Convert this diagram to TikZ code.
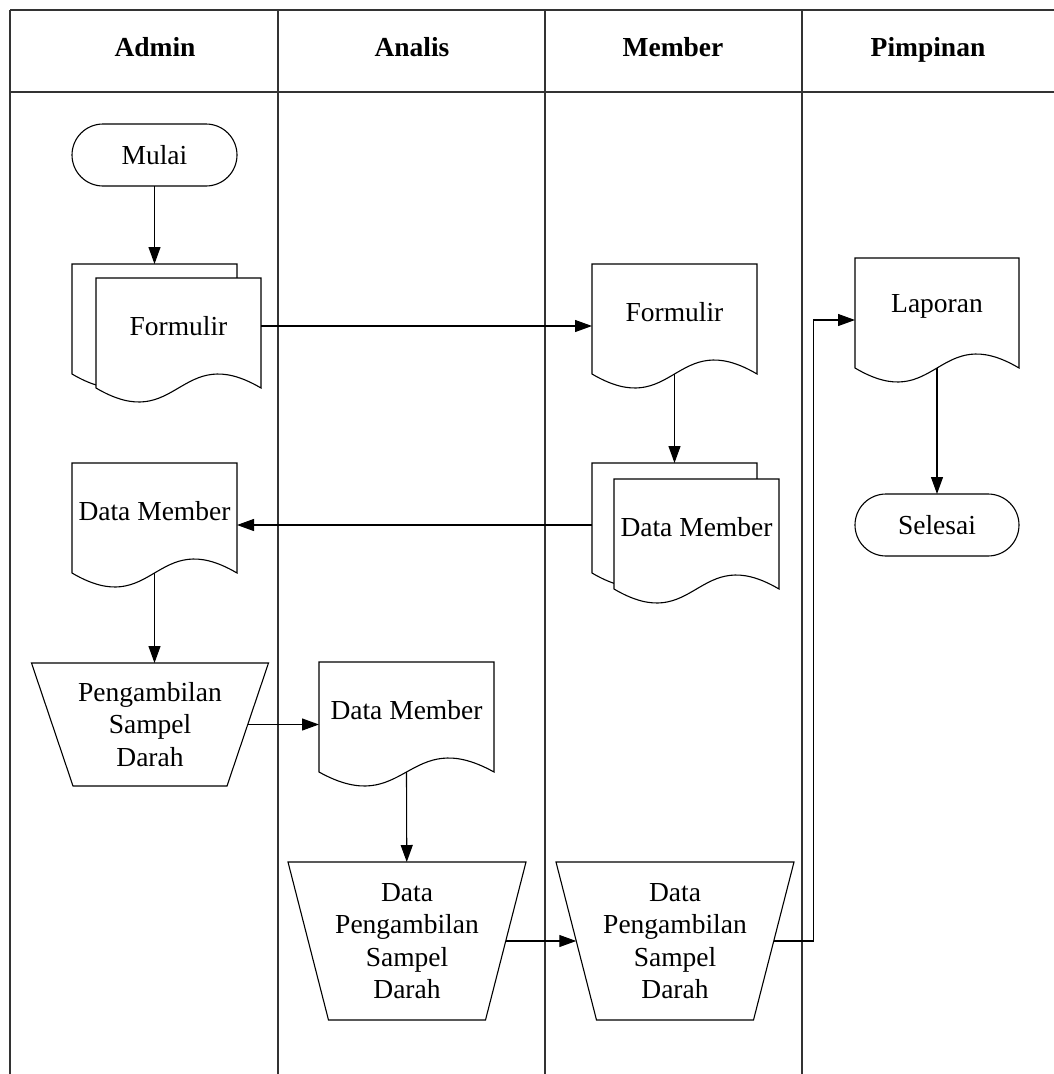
\documentclass[tikz,border=0pt]{standalone}
\usepackage{fontspec}
\setmainfont{Liberation Serif}
\usetikzlibrary{positioning, arrows.meta, calc, backgrounds}

% sheet with a wavy lower edge
\newcommand{\docline}[1]{%
  \begin{scope}[on background layer]
    \draw[fill=white, line width=1.1pt] (#1.north west) -- (#1.north east) -- ($(#1.south east)+(0,14)$)
      .. controls ($(#1.south)+(0,-34.5)$) and ($(#1.south)+(0,62.5)$) .. ($(#1.south west)+(0,14)$) -- cycle;
  \end{scope}
  \coordinate (#1w) at ($(#1.south)+(0,14)$);
}
% manual input: wide top, narrow bottom
\newcommand{\trapline}[2]{%
  \begin{scope}[on background layer]
    \draw[fill=white, line width=1.1pt] (#1.north west) -- (#1.north east) -- ($(#1.south east)+(-#2,0)$) -- ($(#1.south west)+(#2,0)$) -- cycle;
  \end{scope}
  \coordinate (#1l) at ($(#1.west)+(0.5*#2,0)$);
  \coordinate (#1r) at ($(#1.east)+(-0.5*#2,0)$);
}

\begin{document}
\begin{tikzpicture}[x=1pt, y=-1pt, line width=1.1pt, >={Triangle[length=17pt, width=12pt]}, font=\fontsize{27.5}{32.5}\selectfont]
                \tikzstyle{lane} = [draw=black!80, line width=1.1pt]
                \tikzstyle{head} = [anchor=base, font=\fontsize{27.5}{32.5}\selectfont\bfseries]
                \tikzstyle{term} = [rectangle, rounded corners=31pt, draw, minimum width=165pt, minimum height=62pt, outer sep=0pt]
                \tikzstyle{doc} = [rectangle, minimum width=165pt, minimum height=96pt, inner sep=0pt, outer sep=0pt]
                \tikzstyle{io} = [rectangle, minimum width=238pt, minimum height=158pt, inner sep=0pt, outer sep=0pt, align=center]

                \useasboundingbox (0,0) rectangle (1054,1074);

                % Swimlanes
                \draw[lane] (10,10) -- (1054,10);
                \draw[lane] (10,92) -- (1054,92);
                \draw[lane] (10,10) -- (10,1074);
                \draw[lane] (278,10) -- (278,1074);
                \draw[lane] (545,10) -- (545,1074);
                \draw[lane] (802,10) -- (802,1074);
                \node[head] (hadmin) at (155,56) {Admin};
                \node[head] (hanalis) at (412,56) {Analis};
                \node[head] (hmember) at (673,56) {Member};
                \node[head] (hpimpinan) at (928,56) {Pimpinan};

                % Admin lane
                \node[term] (mulai) at (154.5,155) {Mulai};
                \node[doc] (fab) at (154.5,312) {};
                \node[doc] (fa) at (178.5,326) {Formulir};
                \docline{fab}
                \docline{fa}
                \node[doc] (dma) at (154.5,511) {Data Member};
                \docline{dma}
                \node[io, minimum width=237pt, minimum height=123pt] (tpa) at (150,724.5) {Pengambilan\\Sampel\\Darah};
                \trapline{tpa}{41.5}

                % Analis lane
                \node[doc, minimum width=175pt] (dman) at (406.5,710) {Data Member};
                \docline{dman}
                \node[io] (ta) at (407,941) {Data\\Pengambilan\\Sampel\\Darah};
                \trapline{ta}{40.5}

                % Member lane
                \node[doc] (fm) at (674.5,312) {Formulir};
                \docline{fm}
                \node[doc] (dmb) at (674.5,511) {};
                \node[doc] (dm) at (696.5,527) {Data Member};
                \docline{dmb}
                \docline{dm}
                \node[io] (tm) at (675,941) {Data\\Pengambilan\\Sampel\\Darah};
                \trapline{tm}{40.5}

                % Pimpinan lane
                \node[doc, minimum width=164pt] (lap) at (937,306) {Laporan};
                \docline{lap}
                \node[term, minimum width=164pt] (sel) [below=140pt of lap] {Selesai};

                \draw[->] (mulai) -- (fab);
                \draw[->] (fa.east) -- (fa.east -| fm.west);
                \draw[->] (fmw) -- (dmb);
                \draw[->] ([yshift=-14pt]dmb.west) -- ([yshift=-14pt]dmb.west -| dma.east);
                \draw[->] (dmaw) -- (dmaw |- tpa.north);
                \draw[->] (tpar) -- (tpar -| dman.west);
                \draw[->] (dmanw) -- (ta);
                \draw[->] (tar) -- (tml);
                \draw[->] (tmr) -- ++(40,0) |- ([yshift=-14pt]lap.west);
                \draw[->] (lapw) -- (sel);
\end{tikzpicture}
\end{document}
